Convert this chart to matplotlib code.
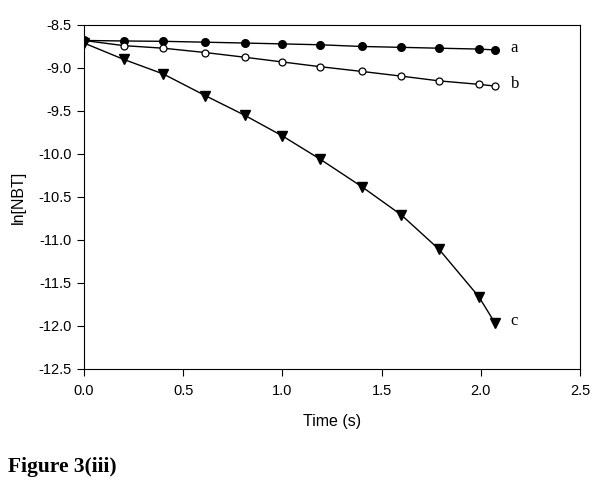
import matplotlib
matplotlib.use('Agg')
import matplotlib.pyplot as plt

time = [0.0, 0.2, 0.4, 0.61, 0.81, 1.0, 1.19, 1.4, 1.6, 1.79, 1.99, 2.07]
ln_a = [-8.68, -8.686, -8.69, -8.70, -8.71, -8.72, -8.73, -8.75, -8.76, -8.77, -8.78, -8.79]
ln_b = [-8.68, -8.74, -8.77, -8.82, -8.875, -8.93, -8.985, -9.04, -9.095, -9.15, -9.19, -9.21]
ln_c = [-8.71, -8.90, -9.07, -9.32, -9.55, -9.79, -10.06, -10.38, -10.71, -11.11, -11.66, -11.96]
curve_labels = ['a', 'b', 'c']

plt.rcParams['font.family'] = ['Liberation Sans', 'DejaVu Sans']

fig = plt.figure(figsize=(6, 4.88), dpi=100)
ax = fig.add_axes([0.14, 0.2439, 0.8267, 0.7049])

ax.plot(time, ln_a, '-o', color='black', lw=1, ms=5.5, mfc='black')
ax.plot(time, ln_b, '-o', color='black', lw=1, ms=5, mfc='white', mew=0.9)
ax.plot(time, ln_c, '-v', color='black', lw=1, ms=7, mfc='black')

for lab, ys in zip(curve_labels, [ln_a, ln_b, ln_c]):
    ax.text(time[-1] + 0.08, ys[-1] + 0.02, lab, family='Liberation Serif',
            fontsize=12, va='center', ha='left')

ax.set_xlim(0, 2.5)
ax.set_ylim(-12.5, -8.5)
ax.set_xticks([0.0, 0.5, 1.0, 1.5, 2.0, 2.5])
ax.set_yticks([-12.5, -12.0, -11.5, -11.0, -10.5, -10.0, -9.5, -9.0, -8.5])
ax.xaxis.set_major_formatter(matplotlib.ticker.FormatStrFormatter('%.1f'))
ax.yaxis.set_major_formatter(matplotlib.ticker.FormatStrFormatter('%.1f'))
ax.tick_params(direction='out', length=5, labelsize=10.5)
ax.tick_params(axis='x', pad=6)
ax.tick_params(axis='y', pad=4)
ax.set_xlabel("Time (s)", fontsize=11.5, labelpad=11)
ax.set_ylabel("ln[NBT]", fontsize=11.5, labelpad=9)

fig.text(0.013, 0.032, "Figure 3(iii)", family='Liberation Serif',
         fontweight='bold', fontsize=15.5)

fig.savefig('out.png', dpi=100)
